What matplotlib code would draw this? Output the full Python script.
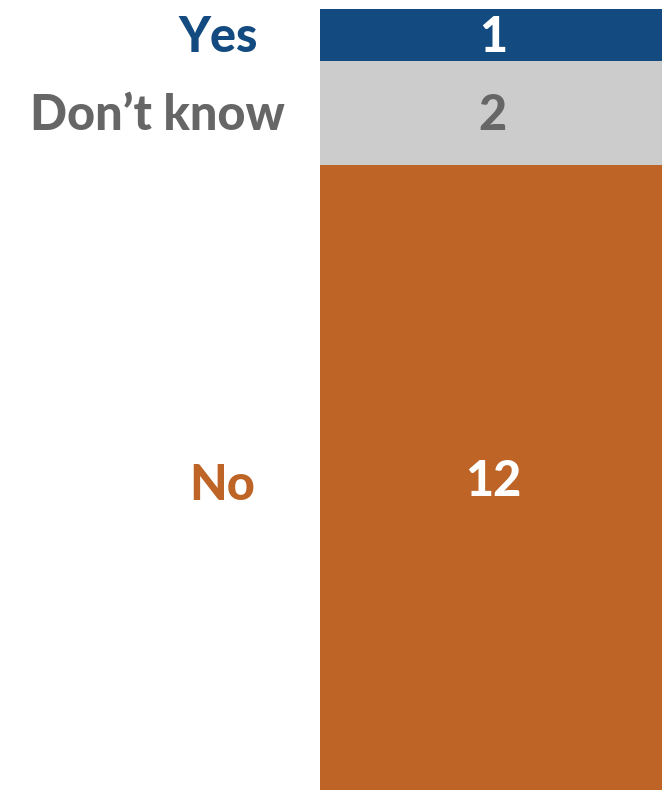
import matplotlib
matplotlib.use('Agg')
from matplotlib import pyplot as plt

# data, top to bottom of the stacked bar
categories = ['Yes', "Don\u2019t know", 'No']
counts = [1, 2, 12]

colors = ['#134a80', '#cccccc', '#bd6426']
label_colors = ['#134a80', '#666666', '#bd6426']
value_colors = ['white', '#666666', 'white']
label_right = [258, 285, 255]   # pixel x where each label ends
label_dy = [-2, -2, -8]         # small pixel nudges (down is negative)
value_dy = [-2, -2, -4]

W, H = 662, 790
fig = plt.figure(figsize=(W / 100, H / 100), dpi=100)
ax = fig.add_axes([320 / W, 0, 1 - 320 / W, (H - 9) / H])

font = dict(fontsize=35, fontweight='black', family='Lato')

total = sum(counts)
ax.set_xlim(-0.5, 0.5)
ax.set_ylim(0, total)
ax.axis('off')

top = total
for cat, n, c, tc, lc, xr, ldy, vdy in zip(categories, counts, colors, value_colors,
                                            label_colors, label_right, label_dy, value_dy):
    ax.bar(0, -n, bottom=top, width=1, color=c, edgecolor='none')
    xp, yp = ax.transData.transform((0, top - n / 2))
    fig.text((xp + 2) / W, (yp + vdy) / H, str(n), ha='center', va='center', color=tc, **font)
    fig.text(xr / W, (yp + ldy) / H, cat, ha='right', va='center', color=lc, **font)
    top -= n

fig.savefig('out.png', dpi=100, facecolor='white')
